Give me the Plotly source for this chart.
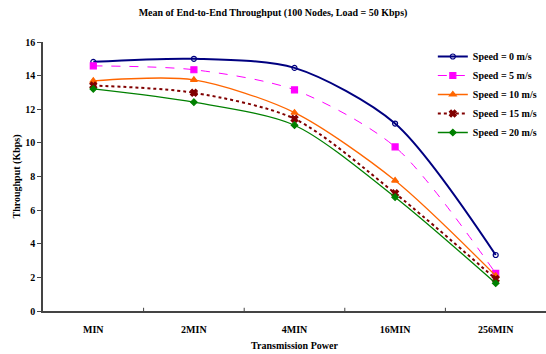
import plotly.graph_objects as go

categories = ["MIN", "2MIN", "4MIN", "16MIN", "256MIN"]
speed0 = [14.82, 15.0, 14.46, 11.15, 3.33]
speed5 = [14.58, 14.35, 13.15, 9.76, 2.24]
speed10 = [13.69, 13.75, 11.8, 7.76, 2.1]
speed15 = [13.41, 12.98, 11.43, 7.0, 1.9]
speed20 = [13.21, 12.42, 11.05, 6.77, 1.65]

series = [
    ("Speed = 0 m/s", speed0, "#000080", "solid", 2, "circle-open", 5),
    ("Speed = 5 m/s", speed5, "#FF00FF", "dash", 1, "square", 6),
    ("Speed = 10 m/s", speed10, "#FF6600", "solid", 1.3, "triangle-up", 6),
    ("Speed = 15 m/s", speed15, "#800000", "dot", 2, "x", 6),
    ("Speed = 20 m/s", speed20, "#008000", "solid", 1.3, "diamond", 5),
]

fig = go.Figure()
for name, vals, color, dash, w, sym, sz in series:
    fig.add_trace(go.Scatter(
        x=list(range(len(categories))), y=vals, name="<b>%s</b>" % name, mode="lines+markers",
        line=dict(color=color, dash=dash, width=w, shape="spline", smoothing=0.8),
        marker=dict(symbol=sym, size=sz, color=color, line=dict(color=color, width=1.2)),
    ))

font = "Liberation Serif"
fig.update_layout(
    width=546, height=354,
    margin=dict(l=43, r=0, t=42, b=43),
    paper_bgcolor="white", plot_bgcolor="white",
    font=dict(family=font, size=10, color="black"),
    title=dict(text="<b>Mean of End-to-End Throughput (100 Nodes, Load = 50 Kbps)</b>",
               x=0.5, xanchor="center", y=0.975, yanchor="top", font=dict(size=10, family=font)),
    showlegend=True,
    legend=dict(x=0.775, y=1.0, xanchor="left", yanchor="top", bgcolor="rgba(0,0,0,0)",
                font=dict(size=10, family=font), tracegroupgap=0, itemwidth=30),
    xaxis=dict(
        range=[-0.5, 4.5], tickmode="array", tickvals=list(range(len(categories))),
        ticktext=["<b>%s</b>" % c for c in categories],
        showgrid=False, zeroline=False, showline=True, linecolor="#444", linewidth=1.5,
        ticks="", ticklabelstandoff=8,
        title=dict(text="<b>Transmission Power</b>", standoff=8, font=dict(size=10)),
    ),
    yaxis=dict(
        range=[0, 16], tickvals=[0, 2, 4, 6, 8, 10, 12, 14, 16],
        ticktext=["<b>%d</b>" % v for v in [0, 2, 4, 6, 8, 10, 12, 14, 16]],
        showgrid=False, zeroline=False, showline=True, linecolor="#444", linewidth=1.5,
        ticks="outside", ticklen=4, tickcolor="#444",
        title=dict(text="<b>Throughput (Kbps)</b>", standoff=3, font=dict(size=10)),
    ),
)
for b in [0.5, 1.5, 2.5, 3.5]:
    fig.add_shape(type="line", xref="x", yref="paper", x0=b, x1=b, y0=0, y1=0.012,
                  line=dict(color="#444", width=1))

fig.write_html("out.html", config={"displayModeBar": False},
               post_script="document.body.style.margin='0';document.body.style.overflow='hidden';")
